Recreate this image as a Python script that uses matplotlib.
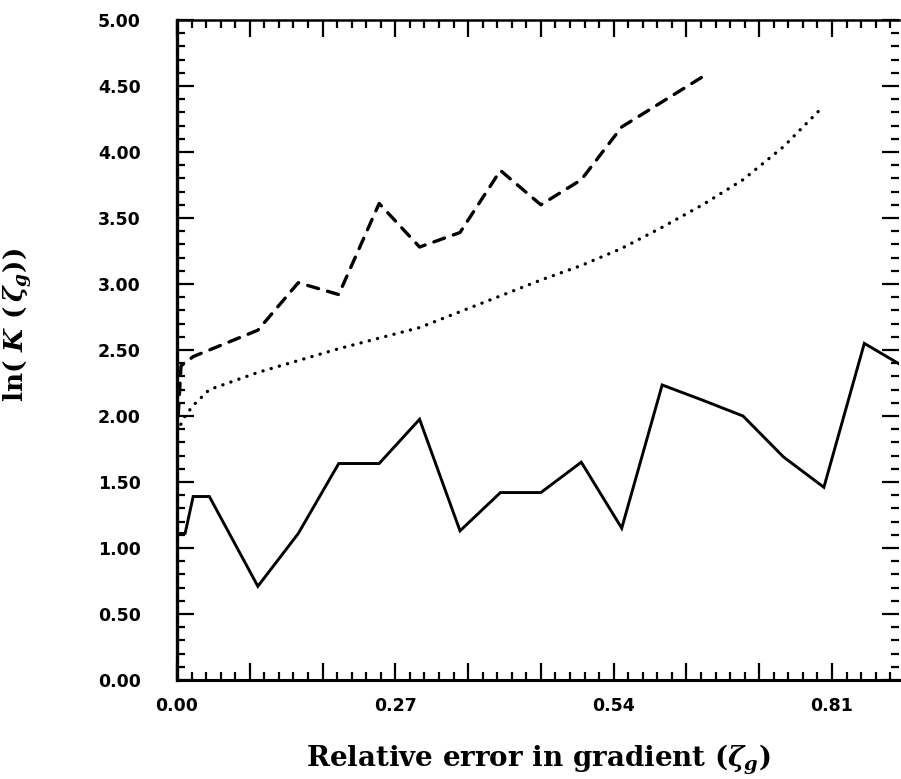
import matplotlib
matplotlib.use("Agg")
import matplotlib.pyplot as plt
from matplotlib.ticker import MultipleLocator, FuncFormatter

plt.rcParams["mathtext.fontset"] = "custom"
plt.rcParams["mathtext.rm"] = "DejaVu Serif:bold"
plt.rcParams["mathtext.it"] = "DejaVu Serif:italic:bold"
plt.rcParams["mathtext.bf"] = "DejaVu Serif:bold"

# Relative error in gradient (x) and ln K for the three cases
x_solid = [0.00, 0.01, 0.02, 0.04, 0.10, 0.15, 0.20, 0.25, 0.30, 0.35, 0.40,
           0.45, 0.50, 0.55, 0.60, 0.65, 0.70, 0.75, 0.80, 0.85, 0.90]
y_solid = [1.11, 1.11, 1.39, 1.39, 0.71, 1.11, 1.64, 1.64, 1.975, 1.13, 1.42,
           1.42, 1.65, 1.15, 2.235, 2.12, 2.00, 1.69, 1.46, 2.55, 2.37]

x_dashed = [0.00, 0.005, 0.02, 0.10, 0.15, 0.20, 0.25, 0.30, 0.35, 0.40,
            0.45, 0.50, 0.55, 0.60, 0.65]
y_dashed = [1.85, 2.38, 2.45, 2.65, 3.01, 2.92, 3.61, 3.28, 3.39, 3.86,
            3.60, 3.79, 4.19, 4.38, 4.57]

x_dotted = [0.00, 0.01, 0.02, 0.04, 0.10, 0.15, 0.20, 0.25, 0.30, 0.35,
            0.40, 0.45, 0.50, 0.55, 0.60, 0.65, 0.70, 0.75, 0.80]
y_dotted = [1.88, 2.00, 2.08, 2.20, 2.33, 2.42, 2.51, 2.59, 2.67, 2.79,
            2.91, 3.03, 3.14, 3.27, 3.43, 3.60, 3.79, 4.04, 4.35]

W, H = 901, 779
fig = plt.figure(figsize=(W / 100, H / 100), dpi=100)
left, right, top, bottom = 177, 899, 20, 680
ax = fig.add_axes([left / W, (H - bottom) / H, (right - left) / W, (bottom - top) / H])

ax.plot(x_solid, y_solid, color="black", lw=2.1, solid_joinstyle="miter")
ax.plot(x_dashed, y_dashed, color="black", lw=2.4, dashes=(3.4, 2.8),
        dash_capstyle="round")
ax.plot(x_dotted, y_dotted, color="black", lw=2.4, dashes=(0.05, 2.5),
        dash_capstyle="round")

ax.set_xlim(0, (right - left) / 808.6)
ax.set_ylim(0, 5.0)

ax.xaxis.set_major_locator(MultipleLocator(0.09))
ax.xaxis.set_minor_locator(MultipleLocator(0.018))
ax.yaxis.set_major_locator(MultipleLocator(0.5))
ax.yaxis.set_minor_locator(MultipleLocator(0.1))


def xfmt(v, pos):
    k = round(v / 0.09)
    return f"{v:.2f}" if k % 3 == 0 else ""


ax.xaxis.set_major_formatter(FuncFormatter(xfmt))
ax.yaxis.set_major_formatter(FuncFormatter(lambda v, p: f"{v:.2f}"))

ax.tick_params(which="both", direction="in", top=True, right=True,
               color="black", width=1.6)
ax.tick_params(which="major", length=12)
ax.tick_params(which="minor", length=6)
ax.tick_params(axis="x", which="major", pad=12)
ax.tick_params(axis="y", which="major", pad=26)

for lab in ax.get_xticklabels() + ax.get_yticklabels():
    lab.set_fontfamily("DejaVu Sans")
    lab.set_fontweight("bold")
    lab.set_fontsize(12.5)

ax.spines["left"].set_linewidth(2.4)
ax.spines["bottom"].set_linewidth(2.2)
ax.spines["top"].set_linewidth(1.8)
ax.spines["right"].set_linewidth(0.0)

ax.set_xlabel(r"Relative error in gradient ($\zeta_g$)", fontfamily="DejaVu Serif",
              fontweight="bold", fontsize=20, labelpad=20)
ax.set_ylabel(r"$\mathrm{ln(}\ K\ (\,\zeta_g))$", fontsize=19)
ax.yaxis.set_label_coords((34 - left) / (right - left), (bottom - 325) / (bottom - top))

fig.savefig("out.png", dpi=100, facecolor="white")
